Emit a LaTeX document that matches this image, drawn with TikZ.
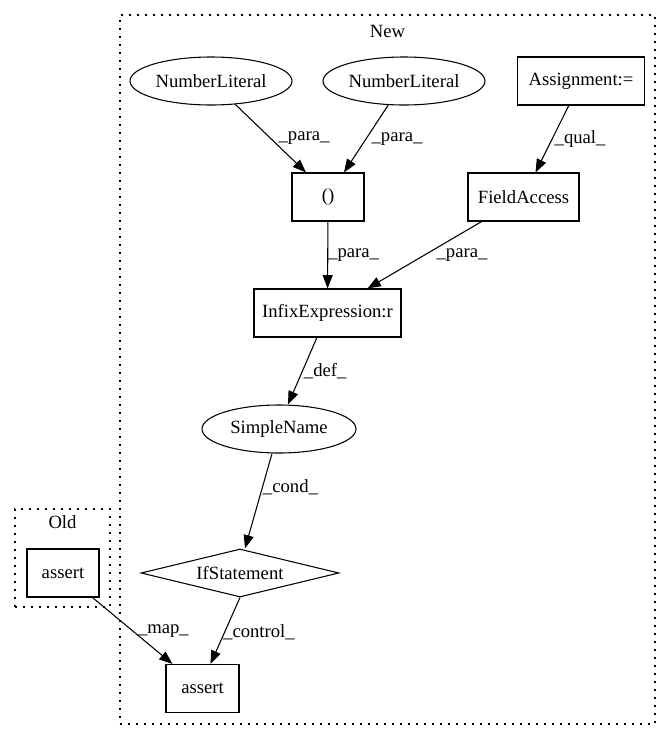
\documentclass[tikz,border=0pt]{standalone}
\usepackage{fontspec}
\setmainfont{Liberation Serif}
\usepackage{tikz}
\usetikzlibrary{shapes,arrows.meta}
\tikzstyle{line} = [draw, line width=0.8pt, -{Triangle[length=10pt,width=7.5pt]}]
\tikzstyle{stmt} = [rectangle, draw=black, line width=0.8pt, inner sep=0pt, minimum height=36pt]
\tikzstyle{lit} = [ellipse, draw=black, line width=0.8pt, inner sep=0pt, minimum height=36pt]
\tikzstyle{branch} = [diamond, aspect=4, draw=black, line width=0.8pt, inner sep=0pt, minimum height=36pt]
\tikzstyle{cluster} = [rectangle, draw=black, line width=0.8pt, dash pattern=on 1.2pt off 4.8pt]
\tikzstyle{lbl} = [anchor=west, inner sep=0pt]

\begin{document}
\begin{tikzpicture}[x=0.75pt, y=-0.75pt, font=\fontsize{14pt}{16pt}\selectfont]
        \useasboundingbox (0,0) rectangle (671,740);
        % clusters
        \node (New) [cluster, minimum width=401.25pt, minimum height=531.75pt] at (387.5,369.5) {};
        \node (Newt) at (387.5,31) {New};
        \node (Old) [cluster, minimum width=71.25pt, minimum height=73.5pt] at (62.5,558) {};
        \node (Oldt) at (62.5,522) {Old};

        \node (NL1) [lit, minimum width=121.5pt] at (211,81) {NumberLiteral};
        \node (NL2) [lit, minimum width=121.5pt] at (404,81) {NumberLiteral};
        \node (Asg) [stmt, minimum width=95pt] at (581,81) {Assignment:=};
        \node (Par) [stmt, minimum width=54pt] at (328,197) {()};
        \node (FA) [stmt, minimum width=83.25pt] at (523.5,197) {FieldAccess};
        \node (Inf) [stmt, minimum width=110.25pt] at (327.5,313) {InfixExpression:r};
        \node (SN) [lit, minimum width=115.5pt] at (279,429) {SimpleName};
        \node (If) [branch, minimum width=148.5pt] at (240,573) {IfStatement};
        \node (Asn) [stmt, minimum width=54.75pt] at (202.5,688.5) {assert};
        \node (Aso) [stmt, minimum width=54pt] at (63,573) {assert};

        \path [line] (NL1) -- node [lbl, xshift=5.6pt] {\_para\_} ([xshift=-16.5pt]Par.north);
        \path [line] (NL2) -- node [lbl, xshift=3.75pt] {\_para\_} ([xshift=12pt]Par.north);
        \path [line] (Asg) -- node [lbl, xshift=1.5pt] {\_qual\_} ([xshift=9pt]FA.north);
        \path [line] (Par) -- node [lbl] {\_para\_} (Inf);
        \path [line] (FA) -- node [lbl, xshift=8.6pt] {\_para\_} ([xshift=30pt]Inf.north);
        \path [line] (Inf) -- node [lbl, xshift=0.75pt] {\_def\_} ([xshift=6.75pt]SN.north);
        \path [line] (SN) -- node [lbl, pos=0.355] {\_cond\_} ([xshift=3.75pt]If.north);
        \path [line] (If.south) -- node [lbl, pos=0.52, xshift=-1.5pt] {\_control\_} ([xshift=6pt]Asn.north);
        \path [line] (Aso) -- node [lbl, xshift=3.75pt] {\_map\_} ([xshift=5.25pt]Asn.north west);

    \end{tikzpicture}
\end{document}
